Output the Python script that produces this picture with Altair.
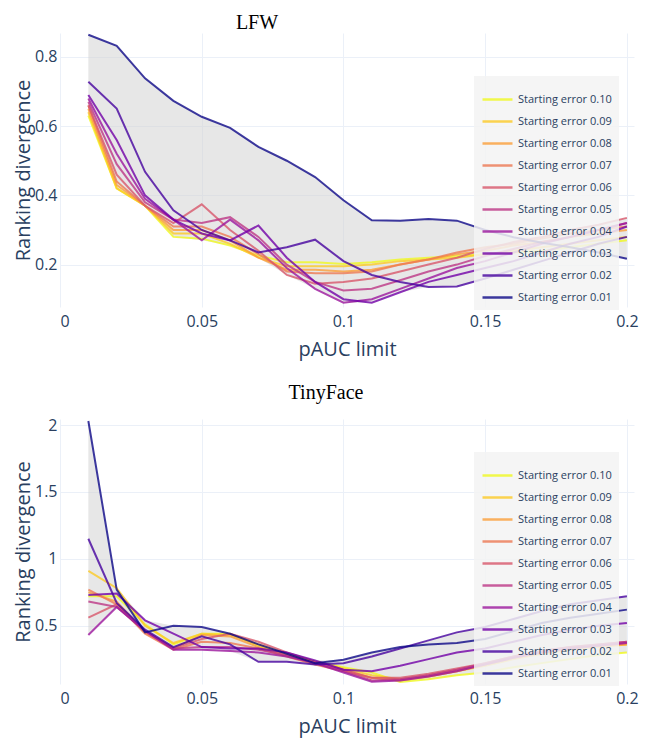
import altair as alt
import pandas as pd

pauc = [0.01, 0.02, 0.03, 0.04, 0.05, 0.06, 0.07, 0.08, 0.09, 0.10,
        0.11, 0.12, 0.13, 0.14, 0.15, 0.16, 0.17, 0.18, 0.19, 0.20]

series_names = ["Starting error 0.10", "Starting error 0.09", "Starting error 0.08",
                "Starting error 0.07", "Starting error 0.06", "Starting error 0.05",
                "Starting error 0.04", "Starting error 0.03", "Starting error 0.02",
                "Starting error 0.01"]
series_colors = ["#f0f921", "#fdca26", "#fb9f3a", "#ed7953", "#d8576b",
                 "#bd3786", "#9c179e", "#7201a8", "#46039f", "#0d0887"]

# LFW
lfw_10 = [0.63, 0.42, 0.37, 0.28, 0.275, 0.255, 0.226, 0.207, 0.207, 0.202, 0.207, 0.215, 0.22, 0.225, 0.23, 0.235, 0.24, 0.25, 0.26, 0.27]
lfw_09 = [0.64, 0.42, 0.37, 0.29, 0.29, 0.26, 0.22, 0.195, 0.195, 0.195, 0.20, 0.21, 0.215, 0.22, 0.23, 0.24, 0.25, 0.26, 0.27, 0.28]
lfw_08 = [0.65, 0.43, 0.37, 0.30, 0.30, 0.27, 0.22, 0.185, 0.185, 0.18, 0.185, 0.20, 0.215, 0.23, 0.24, 0.255, 0.265, 0.28, 0.29, 0.30]
lfw_07 = [0.66, 0.44, 0.37, 0.31, 0.31, 0.28, 0.23, 0.18, 0.175, 0.175, 0.18, 0.20, 0.215, 0.235, 0.25, 0.26, 0.275, 0.29, 0.30, 0.31]
lfw_06 = [0.66, 0.46, 0.37, 0.32, 0.374, 0.30, 0.24, 0.17, 0.145, 0.15, 0.16, 0.18, 0.20, 0.22, 0.245, 0.265, 0.28, 0.30, 0.315, 0.335]
lfw_05 = [0.67, 0.49, 0.38, 0.33, 0.32, 0.337, 0.28, 0.20, 0.15, 0.125, 0.13, 0.155, 0.18, 0.20, 0.225, 0.245, 0.265, 0.28, 0.30, 0.32]
lfw_04 = [0.68, 0.52, 0.39, 0.33, 0.27, 0.33, 0.27, 0.19, 0.13, 0.09, 0.10, 0.13, 0.16, 0.19, 0.21, 0.235, 0.26, 0.28, 0.30, 0.32]
lfw_03 = [0.69, 0.56, 0.40, 0.33, 0.29, 0.27, 0.313, 0.22, 0.15, 0.10, 0.09, 0.12, 0.15, 0.17, 0.19, 0.21, 0.235, 0.26, 0.28, 0.31]
lfw_02 = [0.728, 0.651, 0.468, 0.357, 0.30, 0.27, 0.235, 0.25, 0.272, 0.21, 0.17, 0.15, 0.135, 0.137, 0.16, 0.185, 0.21, 0.235, 0.26, 0.28]
lfw_01 = [0.864, 0.832, 0.738, 0.673, 0.627, 0.595, 0.54, 0.50, 0.453, 0.386, 0.328, 0.327, 0.332, 0.327, 0.30, 0.279, 0.263, 0.25, 0.235, 0.217]

# TinyFace
tf_10 = [0.72, 0.72, 0.51, 0.36, 0.44, 0.44, 0.35, 0.28, 0.23, 0.19, 0.15, 0.08, 0.10, 0.13, 0.15, 0.19, 0.22, 0.25, 0.28, 0.30]
tf_09 = [0.91, 0.78, 0.50, 0.37, 0.44, 0.43, 0.36, 0.29, 0.23, 0.18, 0.13, 0.10, 0.12, 0.16, 0.20, 0.25, 0.29, 0.32, 0.34, 0.36]
tf_08 = [0.75, 0.68, 0.45, 0.33, 0.43, 0.42, 0.34, 0.28, 0.22, 0.17, 0.11, 0.09, 0.12, 0.16, 0.21, 0.26, 0.30, 0.33, 0.35, 0.36]
tf_07 = [0.77, 0.66, 0.44, 0.32, 0.38, 0.37, 0.33, 0.27, 0.21, 0.16, 0.11, 0.10, 0.13, 0.17, 0.21, 0.26, 0.30, 0.33, 0.35, 0.37]
tf_06 = [0.56, 0.66, 0.46, 0.33, 0.40, 0.44, 0.38, 0.30, 0.23, 0.17, 0.11, 0.11, 0.14, 0.18, 0.22, 0.27, 0.31, 0.34, 0.36, 0.38]
tf_05 = [0.68, 0.64, 0.46, 0.33, 0.34, 0.34, 0.32, 0.28, 0.22, 0.16, 0.09, 0.10, 0.13, 0.17, 0.22, 0.27, 0.31, 0.34, 0.36, 0.38]
tf_04 = [0.43, 0.64, 0.46, 0.32, 0.32, 0.31, 0.30, 0.27, 0.22, 0.15, 0.08, 0.09, 0.12, 0.16, 0.21, 0.26, 0.30, 0.33, 0.35, 0.37]
tf_03 = [0.73, 0.74, 0.54, 0.44, 0.34, 0.33, 0.33, 0.30, 0.24, 0.17, 0.16, 0.20, 0.25, 0.30, 0.33, 0.38, 0.43, 0.47, 0.50, 0.52]
tf_02 = [1.15, 0.67, 0.47, 0.34, 0.42, 0.36, 0.23, 0.23, 0.21, 0.22, 0.27, 0.33, 0.39, 0.45, 0.49, 0.55, 0.61, 0.66, 0.69, 0.72]
tf_01 = [2.03, 0.77, 0.45, 0.50, 0.49, 0.44, 0.36, 0.29, 0.22, 0.245, 0.30, 0.34, 0.36, 0.37, 0.40, 0.46, 0.52, 0.56, 0.59, 0.62]

x_ticks = [0, 0.05, 0.1, 0.15, 0.2]
lfw_yticks = [0.2, 0.4, 0.6, 0.8]
tf_yticks = [0.5, 1, 1.5, 2]

lfw_all = [lfw_10, lfw_09, lfw_08, lfw_07, lfw_06, lfw_05, lfw_04, lfw_03, lfw_02, lfw_01]
tf_all = [tf_10, tf_09, tf_08, tf_07, tf_06, tf_05, tf_04, tf_03, tf_02, tf_01]


def make_df(all_series):
    rows = []
    for name, vals in zip(series_names, all_series):
        for xv, yv in zip(pauc, vals):
            rows.append({"pauc": xv, "value": yv, "series": name})
    return pd.DataFrame(rows)


FONT = "Open Sans"
TXT = "#2a3f5f"


def panel(df, title, ydomain, yticks, yfmt, title_offset, title_dx, height, legend_y):
    base = alt.Chart(df)
    xenc = alt.X("pauc:Q", scale=alt.Scale(domain=[0, 0.2025], nice=False, zero=False),
                 axis=alt.Axis(values=x_ticks, format=".2~f", title="pAUC limit",
                               labelPadding=6, titlePadding=10))
    yaxis = alt.Axis(values=yticks, format=yfmt, title="Ranking divergence",
                     labelPadding=3, titlePadding=1)
    yscale = alt.Scale(domain=ydomain, nice=False, zero=False)
    band = base.transform_aggregate(
        lo="min(value)", hi="max(value)", groupby=["pauc"]
    ).mark_area(color="#d3d3d3", opacity=0.55).encode(
        x=xenc,
        y=alt.Y("lo:Q", scale=yscale, axis=yaxis),
        y2="hi:Q",
    )
    lines = base.mark_line(strokeWidth=2, opacity=0.8, clip=True).encode(
        x=xenc,
        y=alt.Y("value:Q", scale=yscale, axis=yaxis),
        color=alt.Color("series:N",
                        scale=alt.Scale(domain=series_names, range=series_colors),
                        legend=alt.Legend(orient="none", legendX=414, legendY=legend_y,
                                          title=None, symbolType="stroke",
                                          symbolSize=900, symbolStrokeWidth=2.5,
                                          labelFont=FONT, labelFontSize=11,
                                          labelColor=TXT, fillColor="rgba(243,243,243,0.85)",
                                          padding=7, rowPadding=-2, symbolOpacity=0.8)),
    )
    return alt.layer(band, lines).properties(
        width=574, height=height,
        title=alt.TitleParams(title, font="Liberation Serif", fontSize=20,
                              fontWeight="normal", color="black", offset=title_offset,
                              dx=title_dx),
    )


top = panel(make_df(lfw_all), "LFW", [0.0775, 0.869], lfw_yticks, ".1f", 0, -90, 274, 43)
bottom = panel(make_df(tf_all), "TinyFace", [0.064, 2.045], tf_yticks, ".1~f", 14, -21, 265, 33)

chart = alt.vconcat(top, bottom, spacing=24).resolve_scale(color="independent").resolve_legend(
    color="independent"
).configure_axis(
    gridColor="#ebf0f8", gridWidth=1, domain=False, ticks=False,
    labelColor=TXT, titleColor=TXT, labelFont=FONT, titleFont=FONT,
    labelFontSize=16, titleFontSize=20, titleFontWeight="normal",
).configure_view(stroke=None)

chart.save("out.html", embed_options={"renderer": "svg", "actions": False})
